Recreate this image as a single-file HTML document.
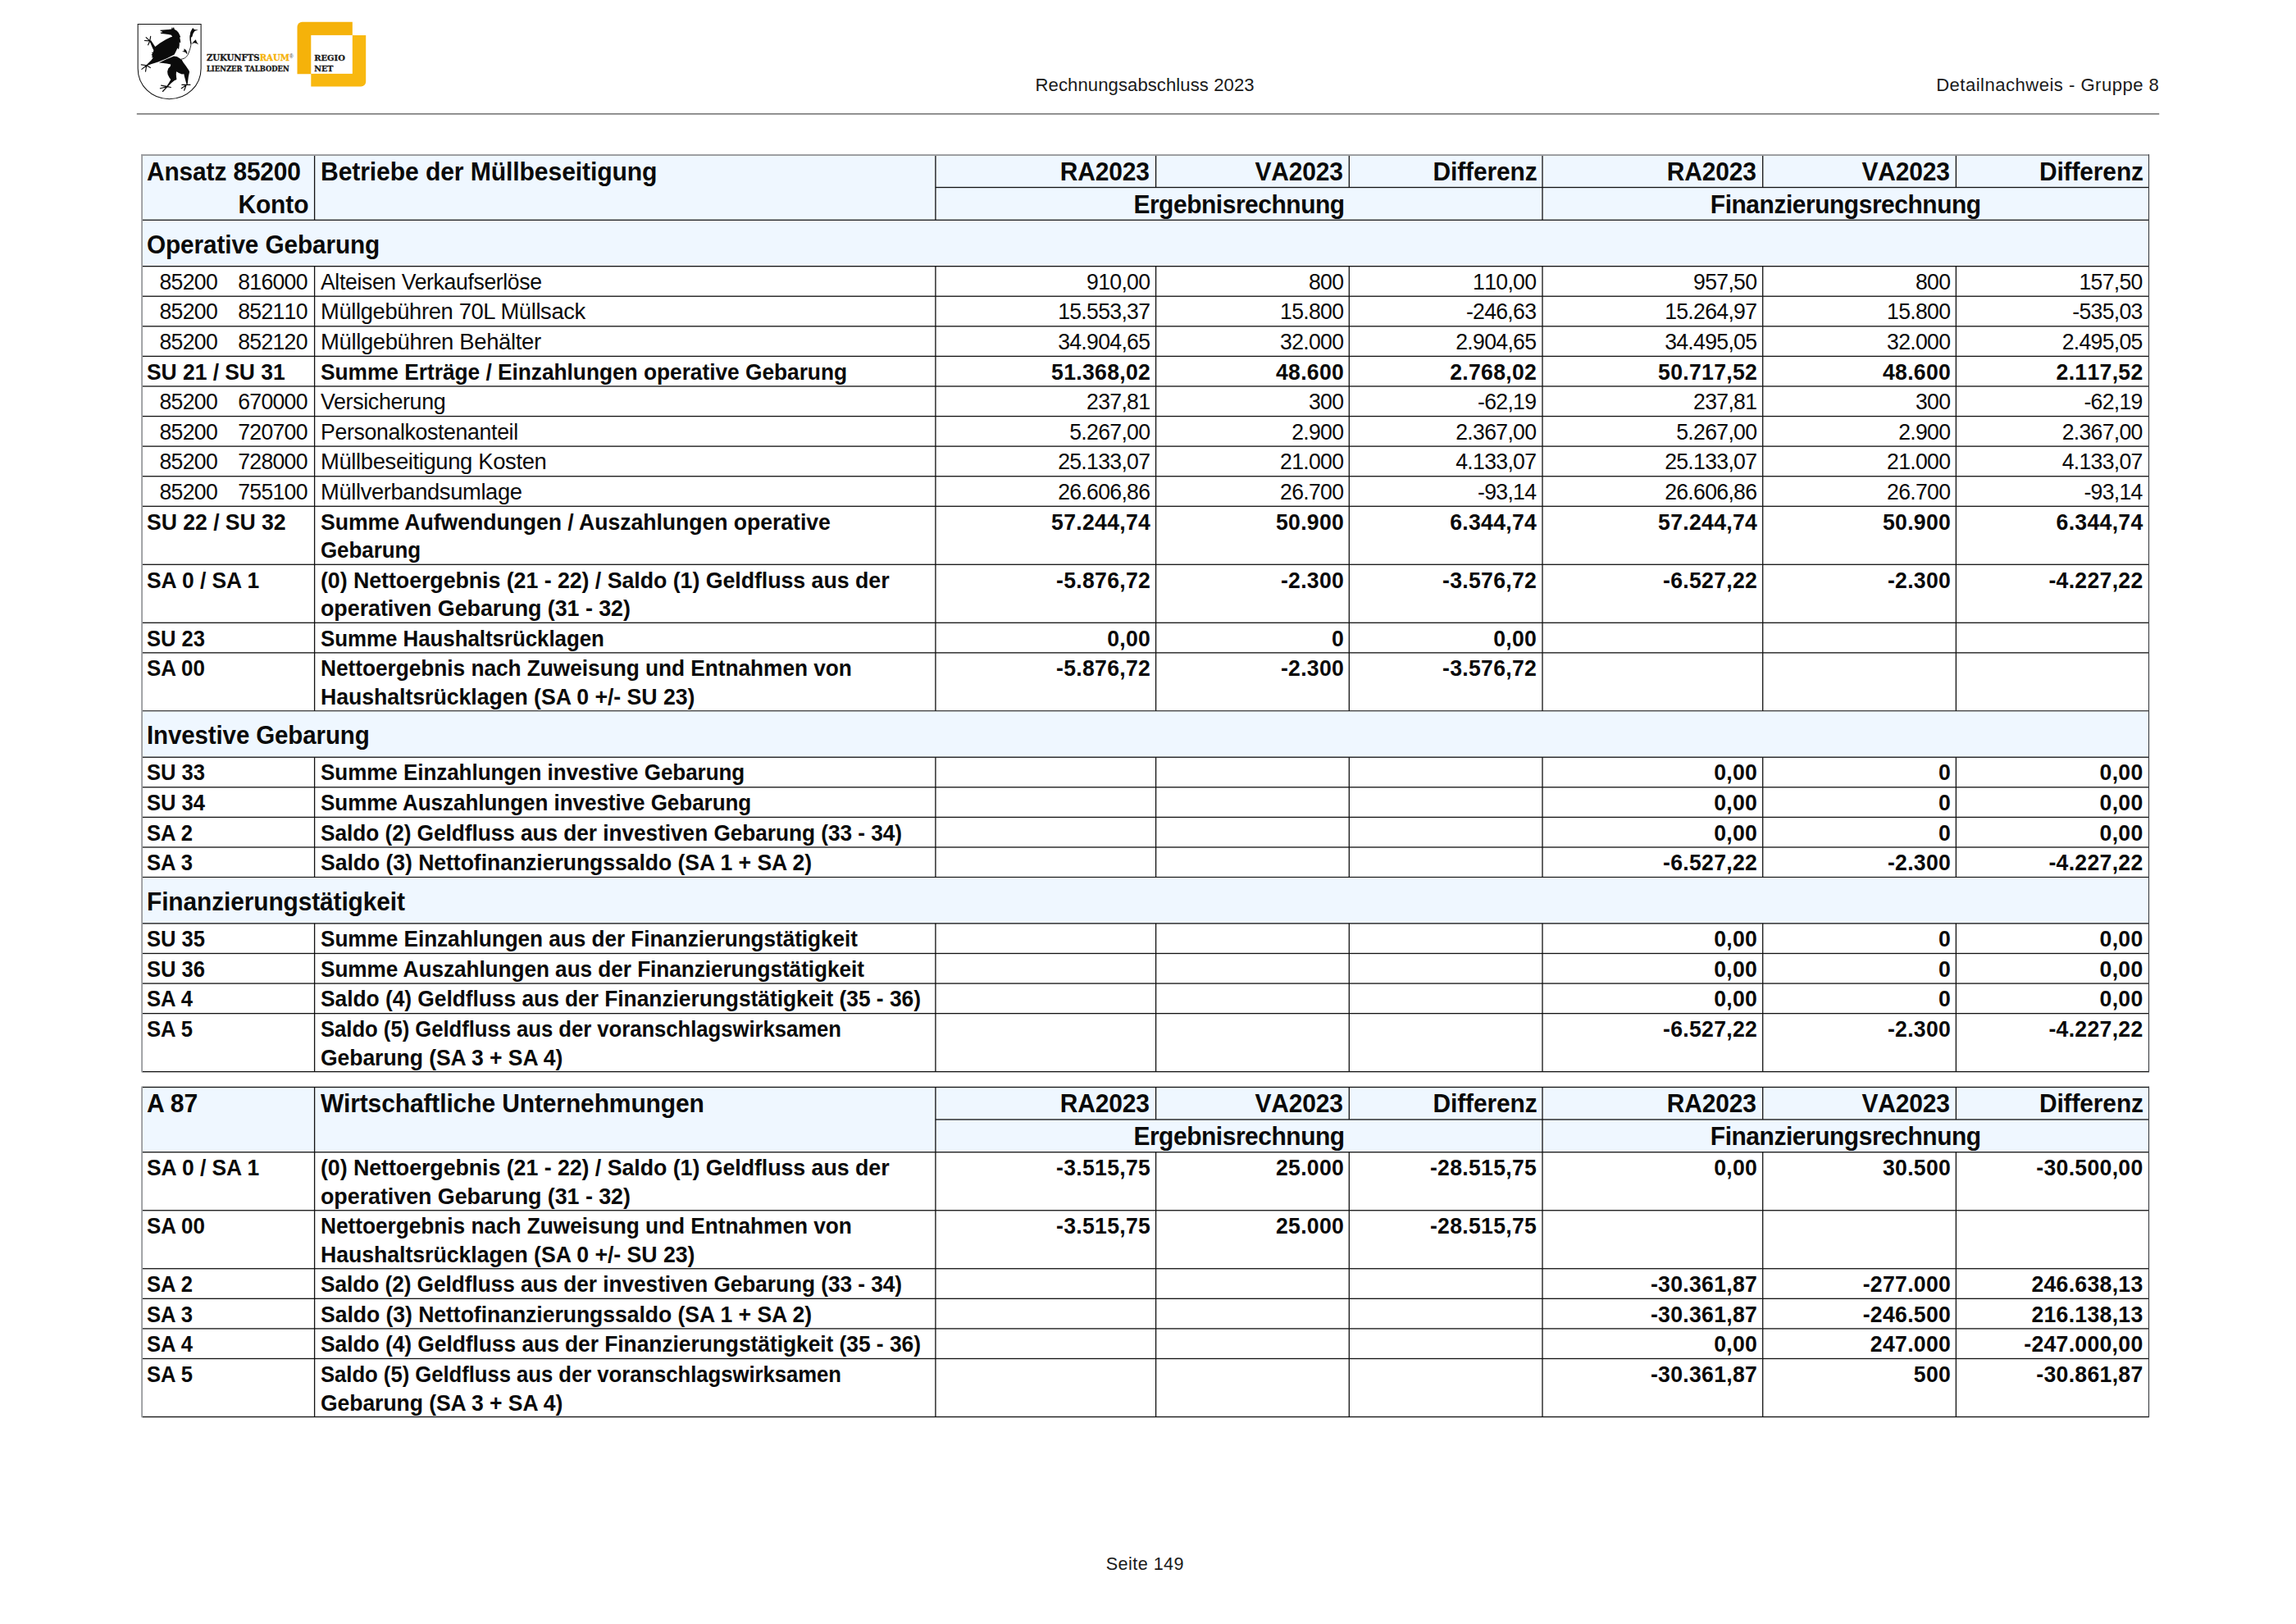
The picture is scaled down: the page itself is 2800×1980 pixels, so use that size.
<!DOCTYPE html>
<html lang="de"><head><meta charset="utf-8"><title>Rechnungsabschluss 2023 - Detailnachweis Gruppe 8</title>
<style>
html,body{margin:0;padding:0;background:#fff;}
body{width:2800px;height:1980px;position:relative;overflow:hidden;font-family:"Liberation Sans",sans-serif;color:#0a0a0a;}
#grid{position:absolute;left:0;top:0;}
.t{position:absolute;white-space:nowrap;font-size:27.0px;letter-spacing:-0.35px;}
.pre{white-space:pre;word-spacing:1.7px;}
.n,.pre,.hn{font-kerning:none;}
.hn{letter-spacing:0.1px;}
.b{font-weight:bold;letter-spacing:-0.05px;}
.h{font-weight:bold;font-size:30.6px;letter-spacing:-0.12px;}
.r.n,.r.pre{letter-spacing:-0.7px;}
.b.n{letter-spacing:0.3px;}
.p{letter-spacing:-0.2px;color:#1a1a1a;}
.logo{position:absolute;left:0;top:0;}
.slab{font-family:"Liberation Serif","DejaVu Serif",serif;font-weight:bold;}
</style></head>
<body>
<svg id="grid" width="2800" height="1980" viewBox="0 0 2800 1980">
<rect x="173.10" y="189.05" width="2447.40" height="79.25" fill="#eff7ff"/>
<rect x="1140.90" y="227.85" width="1479.60" height="1.30" fill="#111"/>
<rect x="382.95" y="189.05" width="1.30" height="79.25" fill="#111"/>
<rect x="1140.25" y="189.05" width="1.30" height="79.25" fill="#111"/>
<rect x="1880.35" y="189.05" width="1.30" height="79.25" fill="#111"/>
<rect x="1408.95" y="189.05" width="1.30" height="39.45" fill="#111"/>
<rect x="1644.65" y="189.05" width="1.30" height="39.45" fill="#111"/>
<rect x="2149.05" y="189.05" width="1.30" height="39.45" fill="#111"/>
<rect x="2384.75" y="189.05" width="1.30" height="39.45" fill="#111"/>
<rect x="173.10" y="267.65" width="2447.40" height="1.30" fill="#111"/>
<rect x="173.10" y="268.95" width="2447.40" height="55.70" fill="#eff7ff"/>
<rect x="173.10" y="324.00" width="2447.40" height="1.30" fill="#111"/>
<rect x="382.95" y="324.65" width="1.30" height="36.58" fill="#111"/>
<rect x="1140.25" y="324.65" width="1.30" height="36.58" fill="#111"/>
<rect x="1408.95" y="324.65" width="1.30" height="36.58" fill="#111"/>
<rect x="1644.65" y="324.65" width="1.30" height="36.58" fill="#111"/>
<rect x="1880.35" y="324.65" width="1.30" height="36.58" fill="#111"/>
<rect x="2149.05" y="324.65" width="1.30" height="36.58" fill="#111"/>
<rect x="2384.75" y="324.65" width="1.30" height="36.58" fill="#111"/>
<rect x="173.10" y="360.58" width="2447.40" height="1.30" fill="#111"/>
<rect x="382.95" y="361.23" width="1.30" height="36.58" fill="#111"/>
<rect x="1140.25" y="361.23" width="1.30" height="36.58" fill="#111"/>
<rect x="1408.95" y="361.23" width="1.30" height="36.58" fill="#111"/>
<rect x="1644.65" y="361.23" width="1.30" height="36.58" fill="#111"/>
<rect x="1880.35" y="361.23" width="1.30" height="36.58" fill="#111"/>
<rect x="2149.05" y="361.23" width="1.30" height="36.58" fill="#111"/>
<rect x="2384.75" y="361.23" width="1.30" height="36.58" fill="#111"/>
<rect x="173.10" y="397.16" width="2447.40" height="1.30" fill="#111"/>
<rect x="382.95" y="397.81" width="1.30" height="36.58" fill="#111"/>
<rect x="1140.25" y="397.81" width="1.30" height="36.58" fill="#111"/>
<rect x="1408.95" y="397.81" width="1.30" height="36.58" fill="#111"/>
<rect x="1644.65" y="397.81" width="1.30" height="36.58" fill="#111"/>
<rect x="1880.35" y="397.81" width="1.30" height="36.58" fill="#111"/>
<rect x="2149.05" y="397.81" width="1.30" height="36.58" fill="#111"/>
<rect x="2384.75" y="397.81" width="1.30" height="36.58" fill="#111"/>
<rect x="173.10" y="433.74" width="2447.40" height="1.30" fill="#111"/>
<rect x="382.95" y="434.39" width="1.30" height="36.58" fill="#111"/>
<rect x="1140.25" y="434.39" width="1.30" height="36.58" fill="#111"/>
<rect x="1408.95" y="434.39" width="1.30" height="36.58" fill="#111"/>
<rect x="1644.65" y="434.39" width="1.30" height="36.58" fill="#111"/>
<rect x="1880.35" y="434.39" width="1.30" height="36.58" fill="#111"/>
<rect x="2149.05" y="434.39" width="1.30" height="36.58" fill="#111"/>
<rect x="2384.75" y="434.39" width="1.30" height="36.58" fill="#111"/>
<rect x="173.10" y="470.32" width="2447.40" height="1.30" fill="#111"/>
<rect x="382.95" y="470.97" width="1.30" height="36.58" fill="#111"/>
<rect x="1140.25" y="470.97" width="1.30" height="36.58" fill="#111"/>
<rect x="1408.95" y="470.97" width="1.30" height="36.58" fill="#111"/>
<rect x="1644.65" y="470.97" width="1.30" height="36.58" fill="#111"/>
<rect x="1880.35" y="470.97" width="1.30" height="36.58" fill="#111"/>
<rect x="2149.05" y="470.97" width="1.30" height="36.58" fill="#111"/>
<rect x="2384.75" y="470.97" width="1.30" height="36.58" fill="#111"/>
<rect x="173.10" y="506.90" width="2447.40" height="1.30" fill="#111"/>
<rect x="382.95" y="507.55" width="1.30" height="36.58" fill="#111"/>
<rect x="1140.25" y="507.55" width="1.30" height="36.58" fill="#111"/>
<rect x="1408.95" y="507.55" width="1.30" height="36.58" fill="#111"/>
<rect x="1644.65" y="507.55" width="1.30" height="36.58" fill="#111"/>
<rect x="1880.35" y="507.55" width="1.30" height="36.58" fill="#111"/>
<rect x="2149.05" y="507.55" width="1.30" height="36.58" fill="#111"/>
<rect x="2384.75" y="507.55" width="1.30" height="36.58" fill="#111"/>
<rect x="173.10" y="543.48" width="2447.40" height="1.30" fill="#111"/>
<rect x="382.95" y="544.13" width="1.30" height="36.58" fill="#111"/>
<rect x="1140.25" y="544.13" width="1.30" height="36.58" fill="#111"/>
<rect x="1408.95" y="544.13" width="1.30" height="36.58" fill="#111"/>
<rect x="1644.65" y="544.13" width="1.30" height="36.58" fill="#111"/>
<rect x="1880.35" y="544.13" width="1.30" height="36.58" fill="#111"/>
<rect x="2149.05" y="544.13" width="1.30" height="36.58" fill="#111"/>
<rect x="2384.75" y="544.13" width="1.30" height="36.58" fill="#111"/>
<rect x="173.10" y="580.06" width="2447.40" height="1.30" fill="#111"/>
<rect x="382.95" y="580.71" width="1.30" height="36.58" fill="#111"/>
<rect x="1140.25" y="580.71" width="1.30" height="36.58" fill="#111"/>
<rect x="1408.95" y="580.71" width="1.30" height="36.58" fill="#111"/>
<rect x="1644.65" y="580.71" width="1.30" height="36.58" fill="#111"/>
<rect x="1880.35" y="580.71" width="1.30" height="36.58" fill="#111"/>
<rect x="2149.05" y="580.71" width="1.30" height="36.58" fill="#111"/>
<rect x="2384.75" y="580.71" width="1.30" height="36.58" fill="#111"/>
<rect x="173.10" y="616.64" width="2447.40" height="1.30" fill="#111"/>
<rect x="382.95" y="617.29" width="1.30" height="71.00" fill="#111"/>
<rect x="1140.25" y="617.29" width="1.30" height="71.00" fill="#111"/>
<rect x="1408.95" y="617.29" width="1.30" height="71.00" fill="#111"/>
<rect x="1644.65" y="617.29" width="1.30" height="71.00" fill="#111"/>
<rect x="1880.35" y="617.29" width="1.30" height="71.00" fill="#111"/>
<rect x="2149.05" y="617.29" width="1.30" height="71.00" fill="#111"/>
<rect x="2384.75" y="617.29" width="1.30" height="71.00" fill="#111"/>
<rect x="173.10" y="687.64" width="2447.40" height="1.30" fill="#111"/>
<rect x="382.95" y="688.29" width="1.30" height="71.00" fill="#111"/>
<rect x="1140.25" y="688.29" width="1.30" height="71.00" fill="#111"/>
<rect x="1408.95" y="688.29" width="1.30" height="71.00" fill="#111"/>
<rect x="1644.65" y="688.29" width="1.30" height="71.00" fill="#111"/>
<rect x="1880.35" y="688.29" width="1.30" height="71.00" fill="#111"/>
<rect x="2149.05" y="688.29" width="1.30" height="71.00" fill="#111"/>
<rect x="2384.75" y="688.29" width="1.30" height="71.00" fill="#111"/>
<rect x="173.10" y="758.64" width="2447.40" height="1.30" fill="#111"/>
<rect x="382.95" y="759.29" width="1.30" height="36.58" fill="#111"/>
<rect x="1140.25" y="759.29" width="1.30" height="36.58" fill="#111"/>
<rect x="1408.95" y="759.29" width="1.30" height="36.58" fill="#111"/>
<rect x="1644.65" y="759.29" width="1.30" height="36.58" fill="#111"/>
<rect x="1880.35" y="759.29" width="1.30" height="36.58" fill="#111"/>
<rect x="2149.05" y="759.29" width="1.30" height="36.58" fill="#111"/>
<rect x="2384.75" y="759.29" width="1.30" height="36.58" fill="#111"/>
<rect x="173.10" y="795.22" width="2447.40" height="1.30" fill="#111"/>
<rect x="382.95" y="795.87" width="1.30" height="71.00" fill="#111"/>
<rect x="1140.25" y="795.87" width="1.30" height="71.00" fill="#111"/>
<rect x="1408.95" y="795.87" width="1.30" height="71.00" fill="#111"/>
<rect x="1644.65" y="795.87" width="1.30" height="71.00" fill="#111"/>
<rect x="1880.35" y="795.87" width="1.30" height="71.00" fill="#111"/>
<rect x="2149.05" y="795.87" width="1.30" height="71.00" fill="#111"/>
<rect x="2384.75" y="795.87" width="1.30" height="71.00" fill="#111"/>
<rect x="173.10" y="866.22" width="2447.40" height="1.30" fill="#111"/>
<rect x="173.10" y="867.52" width="2447.40" height="55.70" fill="#eff7ff"/>
<rect x="173.10" y="922.57" width="2447.40" height="1.30" fill="#111"/>
<rect x="382.95" y="923.22" width="1.30" height="36.58" fill="#111"/>
<rect x="1140.25" y="923.22" width="1.30" height="36.58" fill="#111"/>
<rect x="1408.95" y="923.22" width="1.30" height="36.58" fill="#111"/>
<rect x="1644.65" y="923.22" width="1.30" height="36.58" fill="#111"/>
<rect x="1880.35" y="923.22" width="1.30" height="36.58" fill="#111"/>
<rect x="2149.05" y="923.22" width="1.30" height="36.58" fill="#111"/>
<rect x="2384.75" y="923.22" width="1.30" height="36.58" fill="#111"/>
<rect x="173.10" y="959.15" width="2447.40" height="1.30" fill="#111"/>
<rect x="382.95" y="959.80" width="1.30" height="36.58" fill="#111"/>
<rect x="1140.25" y="959.80" width="1.30" height="36.58" fill="#111"/>
<rect x="1408.95" y="959.80" width="1.30" height="36.58" fill="#111"/>
<rect x="1644.65" y="959.80" width="1.30" height="36.58" fill="#111"/>
<rect x="1880.35" y="959.80" width="1.30" height="36.58" fill="#111"/>
<rect x="2149.05" y="959.80" width="1.30" height="36.58" fill="#111"/>
<rect x="2384.75" y="959.80" width="1.30" height="36.58" fill="#111"/>
<rect x="173.10" y="995.73" width="2447.40" height="1.30" fill="#111"/>
<rect x="382.95" y="996.38" width="1.30" height="36.58" fill="#111"/>
<rect x="1140.25" y="996.38" width="1.30" height="36.58" fill="#111"/>
<rect x="1408.95" y="996.38" width="1.30" height="36.58" fill="#111"/>
<rect x="1644.65" y="996.38" width="1.30" height="36.58" fill="#111"/>
<rect x="1880.35" y="996.38" width="1.30" height="36.58" fill="#111"/>
<rect x="2149.05" y="996.38" width="1.30" height="36.58" fill="#111"/>
<rect x="2384.75" y="996.38" width="1.30" height="36.58" fill="#111"/>
<rect x="173.10" y="1032.31" width="2447.40" height="1.30" fill="#111"/>
<rect x="382.95" y="1032.96" width="1.30" height="36.58" fill="#111"/>
<rect x="1140.25" y="1032.96" width="1.30" height="36.58" fill="#111"/>
<rect x="1408.95" y="1032.96" width="1.30" height="36.58" fill="#111"/>
<rect x="1644.65" y="1032.96" width="1.30" height="36.58" fill="#111"/>
<rect x="1880.35" y="1032.96" width="1.30" height="36.58" fill="#111"/>
<rect x="2149.05" y="1032.96" width="1.30" height="36.58" fill="#111"/>
<rect x="2384.75" y="1032.96" width="1.30" height="36.58" fill="#111"/>
<rect x="173.10" y="1068.89" width="2447.40" height="1.30" fill="#111"/>
<rect x="173.10" y="1070.19" width="2447.40" height="55.70" fill="#eff7ff"/>
<rect x="173.10" y="1125.24" width="2447.40" height="1.30" fill="#111"/>
<rect x="382.95" y="1125.89" width="1.30" height="36.58" fill="#111"/>
<rect x="1140.25" y="1125.89" width="1.30" height="36.58" fill="#111"/>
<rect x="1408.95" y="1125.89" width="1.30" height="36.58" fill="#111"/>
<rect x="1644.65" y="1125.89" width="1.30" height="36.58" fill="#111"/>
<rect x="1880.35" y="1125.89" width="1.30" height="36.58" fill="#111"/>
<rect x="2149.05" y="1125.89" width="1.30" height="36.58" fill="#111"/>
<rect x="2384.75" y="1125.89" width="1.30" height="36.58" fill="#111"/>
<rect x="173.10" y="1161.82" width="2447.40" height="1.30" fill="#111"/>
<rect x="382.95" y="1162.47" width="1.30" height="36.58" fill="#111"/>
<rect x="1140.25" y="1162.47" width="1.30" height="36.58" fill="#111"/>
<rect x="1408.95" y="1162.47" width="1.30" height="36.58" fill="#111"/>
<rect x="1644.65" y="1162.47" width="1.30" height="36.58" fill="#111"/>
<rect x="1880.35" y="1162.47" width="1.30" height="36.58" fill="#111"/>
<rect x="2149.05" y="1162.47" width="1.30" height="36.58" fill="#111"/>
<rect x="2384.75" y="1162.47" width="1.30" height="36.58" fill="#111"/>
<rect x="173.10" y="1198.40" width="2447.40" height="1.30" fill="#111"/>
<rect x="382.95" y="1199.05" width="1.30" height="36.58" fill="#111"/>
<rect x="1140.25" y="1199.05" width="1.30" height="36.58" fill="#111"/>
<rect x="1408.95" y="1199.05" width="1.30" height="36.58" fill="#111"/>
<rect x="1644.65" y="1199.05" width="1.30" height="36.58" fill="#111"/>
<rect x="1880.35" y="1199.05" width="1.30" height="36.58" fill="#111"/>
<rect x="2149.05" y="1199.05" width="1.30" height="36.58" fill="#111"/>
<rect x="2384.75" y="1199.05" width="1.30" height="36.58" fill="#111"/>
<rect x="173.10" y="1234.98" width="2447.40" height="1.30" fill="#111"/>
<rect x="382.95" y="1235.63" width="1.30" height="71.00" fill="#111"/>
<rect x="1140.25" y="1235.63" width="1.30" height="71.00" fill="#111"/>
<rect x="1408.95" y="1235.63" width="1.30" height="71.00" fill="#111"/>
<rect x="1644.65" y="1235.63" width="1.30" height="71.00" fill="#111"/>
<rect x="1880.35" y="1235.63" width="1.30" height="71.00" fill="#111"/>
<rect x="2149.05" y="1235.63" width="1.30" height="71.00" fill="#111"/>
<rect x="2384.75" y="1235.63" width="1.30" height="71.00" fill="#111"/>
<rect x="173.10" y="1305.98" width="2447.40" height="1.30" fill="#111"/>
<rect x="172.20" y="188.10" width="2448.30" height="1.90" fill="#999b9e"/>
<rect x="172.20" y="188.15" width="1.80" height="1119.13" fill="#999b9e"/>
<rect x="2619.93" y="188.15" width="1.15" height="1119.13" fill="#3e4145"/>
<rect x="173.10" y="1325.50" width="2447.40" height="79.25" fill="#eff7ff"/>
<rect x="1140.90" y="1364.30" width="1479.60" height="1.30" fill="#111"/>
<rect x="382.95" y="1325.50" width="1.30" height="79.25" fill="#111"/>
<rect x="1140.25" y="1325.50" width="1.30" height="79.25" fill="#111"/>
<rect x="1880.35" y="1325.50" width="1.30" height="79.25" fill="#111"/>
<rect x="1408.95" y="1325.50" width="1.30" height="39.45" fill="#111"/>
<rect x="1644.65" y="1325.50" width="1.30" height="39.45" fill="#111"/>
<rect x="2149.05" y="1325.50" width="1.30" height="39.45" fill="#111"/>
<rect x="2384.75" y="1325.50" width="1.30" height="39.45" fill="#111"/>
<rect x="173.10" y="1404.10" width="2447.40" height="1.30" fill="#111"/>
<rect x="382.95" y="1404.75" width="1.30" height="71.00" fill="#111"/>
<rect x="1140.25" y="1404.75" width="1.30" height="71.00" fill="#111"/>
<rect x="1408.95" y="1404.75" width="1.30" height="71.00" fill="#111"/>
<rect x="1644.65" y="1404.75" width="1.30" height="71.00" fill="#111"/>
<rect x="1880.35" y="1404.75" width="1.30" height="71.00" fill="#111"/>
<rect x="2149.05" y="1404.75" width="1.30" height="71.00" fill="#111"/>
<rect x="2384.75" y="1404.75" width="1.30" height="71.00" fill="#111"/>
<rect x="173.10" y="1475.10" width="2447.40" height="1.30" fill="#111"/>
<rect x="382.95" y="1475.75" width="1.30" height="71.00" fill="#111"/>
<rect x="1140.25" y="1475.75" width="1.30" height="71.00" fill="#111"/>
<rect x="1408.95" y="1475.75" width="1.30" height="71.00" fill="#111"/>
<rect x="1644.65" y="1475.75" width="1.30" height="71.00" fill="#111"/>
<rect x="1880.35" y="1475.75" width="1.30" height="71.00" fill="#111"/>
<rect x="2149.05" y="1475.75" width="1.30" height="71.00" fill="#111"/>
<rect x="2384.75" y="1475.75" width="1.30" height="71.00" fill="#111"/>
<rect x="173.10" y="1546.10" width="2447.40" height="1.30" fill="#111"/>
<rect x="382.95" y="1546.75" width="1.30" height="36.58" fill="#111"/>
<rect x="1140.25" y="1546.75" width="1.30" height="36.58" fill="#111"/>
<rect x="1408.95" y="1546.75" width="1.30" height="36.58" fill="#111"/>
<rect x="1644.65" y="1546.75" width="1.30" height="36.58" fill="#111"/>
<rect x="1880.35" y="1546.75" width="1.30" height="36.58" fill="#111"/>
<rect x="2149.05" y="1546.75" width="1.30" height="36.58" fill="#111"/>
<rect x="2384.75" y="1546.75" width="1.30" height="36.58" fill="#111"/>
<rect x="173.10" y="1582.68" width="2447.40" height="1.30" fill="#111"/>
<rect x="382.95" y="1583.33" width="1.30" height="36.58" fill="#111"/>
<rect x="1140.25" y="1583.33" width="1.30" height="36.58" fill="#111"/>
<rect x="1408.95" y="1583.33" width="1.30" height="36.58" fill="#111"/>
<rect x="1644.65" y="1583.33" width="1.30" height="36.58" fill="#111"/>
<rect x="1880.35" y="1583.33" width="1.30" height="36.58" fill="#111"/>
<rect x="2149.05" y="1583.33" width="1.30" height="36.58" fill="#111"/>
<rect x="2384.75" y="1583.33" width="1.30" height="36.58" fill="#111"/>
<rect x="173.10" y="1619.26" width="2447.40" height="1.30" fill="#111"/>
<rect x="382.95" y="1619.91" width="1.30" height="36.58" fill="#111"/>
<rect x="1140.25" y="1619.91" width="1.30" height="36.58" fill="#111"/>
<rect x="1408.95" y="1619.91" width="1.30" height="36.58" fill="#111"/>
<rect x="1644.65" y="1619.91" width="1.30" height="36.58" fill="#111"/>
<rect x="1880.35" y="1619.91" width="1.30" height="36.58" fill="#111"/>
<rect x="2149.05" y="1619.91" width="1.30" height="36.58" fill="#111"/>
<rect x="2384.75" y="1619.91" width="1.30" height="36.58" fill="#111"/>
<rect x="173.10" y="1655.84" width="2447.40" height="1.30" fill="#111"/>
<rect x="382.95" y="1656.49" width="1.30" height="71.00" fill="#111"/>
<rect x="1140.25" y="1656.49" width="1.30" height="71.00" fill="#111"/>
<rect x="1408.95" y="1656.49" width="1.30" height="71.00" fill="#111"/>
<rect x="1644.65" y="1656.49" width="1.30" height="71.00" fill="#111"/>
<rect x="1880.35" y="1656.49" width="1.30" height="71.00" fill="#111"/>
<rect x="2149.05" y="1656.49" width="1.30" height="71.00" fill="#111"/>
<rect x="2384.75" y="1656.49" width="1.30" height="71.00" fill="#111"/>
<rect x="173.10" y="1726.84" width="2447.40" height="1.30" fill="#111"/>
<rect x="173.10" y="1324.85" width="2447.40" height="1.30" fill="#111"/>
<rect x="172.20" y="1324.60" width="1.80" height="403.54" fill="#999b9e"/>
<rect x="2619.93" y="1324.60" width="1.15" height="403.54" fill="#3e4145"/>
<rect x="166.80" y="138.15" width="2466.40" height="1.50" fill="#6f6f6f"/>
</svg>
<svg class="logo" width="480" height="140" viewBox="0 0 480 140">
<g transform="translate(160.27,24.35) scale(0.061576)">
<path d="M128,82 L1378,82 L1378,960 C1378,1300 1100,1565 750,1565 C400,1565 128,1300 128,960 Z" fill="#fff" stroke="#111" stroke-width="17"/>
<g fill="#0b0b0b" stroke="none">
<path d="M570,200 L730,188 L795,180 L800,150 L812,150 L820,178 L830,150 L843,150 L852,185 L900,215 L935,255 L960,305 L975,345 L955,338 L968,395 L975,455 L950,440 L950,500 L938,585 L912,555 L885,615 L850,685 L700,760 L530,830 L400,870 L310,905 L290,895 L330,860 L400,790 L430,740 L395,740 L420,715 L395,690 L420,670 L400,645 L430,640 L440,600 L420,560 L370,440 L360,420 L385,400 L470,530 L560,460 L680,390 L770,345 L810,330 L790,300 L740,285 L640,275 L590,270 L570,250 L620,240 L600,225 L570,215 Z"/>
<path d="M545,845 L700,775 L840,715 L900,725 L960,760 L1000,790 L1020,830 L1080,910 L1140,1000 L1150,1030 L1130,1120 L1110,1280 L1095,1290 L1085,1250 L1050,1120 L1040,1070 L1000,1075 L940,1050 L890,1020 L885,1080 L895,1180 L850,1200 L790,1250 L730,1310 L700,1310 L740,1250 L780,1180 L750,1140 L720,1080 L712,1020 L730,960 L770,920 L780,880 L700,865 L600,850 Z"/>
<path d="M1215,155 L1245,188 L1325,198 L1255,218 L1222,265 L1200,340 L1160,345 L1162,290 L1175,225 Z"/>
<path d="M1275,390 L1295,440 L1330,485 L1280,460 L1240,455 L1190,480 L1230,430 Z"/>
<path d="M1045,565 L1085,600 L1105,650 L1100,680 L1070,640 L1000,625 L1040,615 Z"/>
</g>
<g fill="none" stroke="#0b0b0b" stroke-width="19" stroke-linecap="round">
<path d="M365,415 L290,345 M365,415 L262,408 M365,415 L330,495 M365,415 L380,325"/>
<path d="M300,900 L195,885 M300,900 L205,975 M300,900 L280,1020 M300,900 L375,945"/>
<path d="M720,1320 L590,1295 M720,1320 L570,1355 M700,1330 L620,1415 M720,1320 L780,1335"/>
<path d="M1000,1283 L1165,1283 M1085,1290 L990,1355 M1085,1290 L1045,1395"/>
<path d="M990,775 C1060,770 1110,720 1130,660 C1160,580 1180,520 1180,470 C1170,400 1150,330 1190,230" stroke-width="14"/>
<path d="M1188,250 C1160,330 1166,400 1178,470" stroke-width="22" stroke-linecap="butt"/>
</g>
</g>
<!-- regio net mark -->
<path d="M368.5,26.8 H429.8 V90.3 H362.5 V32.8 A6,6 0 0 1 368.5,26.8 Z" fill="#f5b20a"/>
<path d="M379.3,42.9 H446.2 V99.6 A6,6 0 0 1 440.2,105.6 H379.3 Z" fill="#f8b810"/>
<rect x="379.3" y="42.9" width="50.5" height="47" fill="#fff"/>
<g font-family="'DejaVu Serif','Liberation Serif',serif" font-weight="bold" fill="#1a1a1a" stroke="#1a1a1a" stroke-width="0.3" paint-order="stroke">
<text x="251.9" y="74.3" font-size="10.7" textLength="101" lengthAdjust="spacingAndGlyphs">ZUKUNFTS<tspan fill="#f5b20a" stroke="#f5b20a">RAUM</tspan></text>
<text x="353.0" y="71.0" font-size="6.4" stroke="none" font-weight="normal" fill="#444" font-family="'Liberation Sans',sans-serif">®</text>
<text x="251.9" y="86.7" font-size="8.7" textLength="100.8" lengthAdjust="spacingAndGlyphs">LIENZER TALBODEN</text>
<text x="383.2" y="74.3" font-size="10" textLength="37.6" lengthAdjust="spacingAndGlyphs">REGIO</text>
<text x="383.2" y="86.7" font-size="10" textLength="23.2" lengthAdjust="spacingAndGlyphs">NET</text>
</g>
</svg>

<div class="t h" style="left:179.40px;top:191px;width:196.40px;line-height:37px;transform:scaleX(0.9762);transform-origin:left center;">Ansatz 85200</div>
<div class="t h" style="left:179.40px;top:231px;width:197.30px;line-height:37px;text-align:right;transform:scaleX(0.9781);transform-origin:right center;">Konto</div>
<div class="t h" style="left:390.60px;top:191px;width:742.50px;line-height:37px;transform:scaleX(0.9853);transform-origin:left center;">Betriebe der Müllbeseitigung</div>
<div class="t h hn" style="left:1147.90px;top:191px;width:253.90px;line-height:37px;text-align:right;transform:scaleX(0.9781);transform-origin:right center;">RA2023</div>
<div class="t h hn" style="left:1416.60px;top:191px;width:220.90px;line-height:37px;text-align:right;transform:scaleX(0.9781);transform-origin:right center;">VA2023</div>
<div class="t h hn" style="left:1652.30px;top:191px;width:222.50px;line-height:37px;text-align:right;transform:scaleX(0.9781);transform-origin:right center;">Differenz</div>
<div class="t h hn" style="left:1888.00px;top:191px;width:253.90px;line-height:37px;text-align:right;transform:scaleX(0.9781);transform-origin:right center;">RA2023</div>
<div class="t h hn" style="left:2156.70px;top:191px;width:220.90px;line-height:37px;text-align:right;transform:scaleX(0.9781);transform-origin:right center;">VA2023</div>
<div class="t h hn" style="left:2392.40px;top:191px;width:221.90px;line-height:37px;text-align:right;transform:scaleX(0.9781);transform-origin:right center;">Differenz</div>
<div class="t h" style="left:1140.90px;top:231px;width:740.10px;line-height:37px;text-align:center;letter-spacing:-0.45px;transform:scaleX(0.9781);transform-origin:center center;">Ergebnisrechnung</div>
<div class="t h" style="left:1881.00px;top:231px;width:739.50px;line-height:37px;text-align:center;letter-spacing:-0.45px;transform:scaleX(0.9781);transform-origin:center center;">Finanzierungsrechnung</div>
<div class="t h" style="left:179.40px;top:280px;width:2441.10px;line-height:37px;transform:scaleX(0.9731);transform-origin:left center;">Operative Gebarung</div>
<div class="t r pre" style="left:179.40px;top:328px;width:195.80px;line-height:32px;text-align:right;transform:scaleX(0.9852);transform-origin:right center;">85200   816000</div>
<div class="t r" style="left:390.60px;top:328px;width:750.30px;line-height:32px;transform:scaleX(0.9838);transform-origin:left center;">Alteisen Verkaufserlöse</div>
<div class="t r n" style="left:1140.90px;top:328px;width:261.30px;line-height:32px;text-align:right;transform:scaleX(0.9852);transform-origin:right center;">910,00</div>
<div class="t r n" style="left:1409.60px;top:328px;width:228.30px;line-height:32px;text-align:right;transform:scaleX(0.9852);transform-origin:right center;">800</div>
<div class="t r n" style="left:1645.30px;top:328px;width:228.30px;line-height:32px;text-align:right;transform:scaleX(0.9852);transform-origin:right center;">110,00</div>
<div class="t r n" style="left:1881.00px;top:328px;width:261.30px;line-height:32px;text-align:right;transform:scaleX(0.9852);transform-origin:right center;">957,50</div>
<div class="t r n" style="left:2149.70px;top:328px;width:228.30px;line-height:32px;text-align:right;transform:scaleX(0.9852);transform-origin:right center;">800</div>
<div class="t r n" style="left:2385.40px;top:328px;width:227.70px;line-height:32px;text-align:right;transform:scaleX(0.9852);transform-origin:right center;">157,50</div>
<div class="t r pre" style="left:179.40px;top:364px;width:195.80px;line-height:32px;text-align:right;transform:scaleX(0.9852);transform-origin:right center;">85200   852110</div>
<div class="t r" style="left:390.60px;top:364px;width:750.30px;line-height:32px;transform:scaleX(1.0124);transform-origin:left center;">Müllgebühren 70L Müllsack</div>
<div class="t r n" style="left:1140.90px;top:364px;width:261.30px;line-height:32px;text-align:right;transform:scaleX(0.9852);transform-origin:right center;">15.553,37</div>
<div class="t r n" style="left:1409.60px;top:364px;width:228.30px;line-height:32px;text-align:right;transform:scaleX(0.9852);transform-origin:right center;">15.800</div>
<div class="t r n" style="left:1645.30px;top:364px;width:228.30px;line-height:32px;text-align:right;transform:scaleX(0.9852);transform-origin:right center;">-246,63</div>
<div class="t r n" style="left:1881.00px;top:364px;width:261.30px;line-height:32px;text-align:right;transform:scaleX(0.9852);transform-origin:right center;">15.264,97</div>
<div class="t r n" style="left:2149.70px;top:364px;width:228.30px;line-height:32px;text-align:right;transform:scaleX(0.9852);transform-origin:right center;">15.800</div>
<div class="t r n" style="left:2385.40px;top:364px;width:227.70px;line-height:32px;text-align:right;transform:scaleX(0.9852);transform-origin:right center;">-535,03</div>
<div class="t r pre" style="left:179.40px;top:401px;width:195.80px;line-height:32px;text-align:right;transform:scaleX(0.9852);transform-origin:right center;">85200   852120</div>
<div class="t r" style="left:390.60px;top:401px;width:750.30px;line-height:32px;transform:scaleX(1.0164);transform-origin:left center;">Müllgebühren Behälter</div>
<div class="t r n" style="left:1140.90px;top:401px;width:261.30px;line-height:32px;text-align:right;transform:scaleX(0.9852);transform-origin:right center;">34.904,65</div>
<div class="t r n" style="left:1409.60px;top:401px;width:228.30px;line-height:32px;text-align:right;transform:scaleX(0.9852);transform-origin:right center;">32.000</div>
<div class="t r n" style="left:1645.30px;top:401px;width:228.30px;line-height:32px;text-align:right;transform:scaleX(0.9852);transform-origin:right center;">2.904,65</div>
<div class="t r n" style="left:1881.00px;top:401px;width:261.30px;line-height:32px;text-align:right;transform:scaleX(0.9852);transform-origin:right center;">34.495,05</div>
<div class="t r n" style="left:2149.70px;top:401px;width:228.30px;line-height:32px;text-align:right;transform:scaleX(0.9852);transform-origin:right center;">32.000</div>
<div class="t r n" style="left:2385.40px;top:401px;width:227.70px;line-height:32px;text-align:right;transform:scaleX(0.9852);transform-origin:right center;">2.495,05</div>
<div class="t b" style="left:179.40px;top:438px;width:204.20px;line-height:32px;transform:scaleX(0.9806);transform-origin:left center;">SU 21 / SU 31</div>
<div class="t b" style="left:390.60px;top:438px;width:750.30px;line-height:32px;transform:scaleX(0.9760);transform-origin:left center;">Summe Erträge / Einzahlungen operative Gebarung</div>
<div class="t b n" style="left:1140.90px;top:438px;width:262.10px;line-height:32px;text-align:right;transform:scaleX(0.9852);transform-origin:right center;">51.368,02</div>
<div class="t b n" style="left:1409.60px;top:438px;width:229.10px;line-height:32px;text-align:right;transform:scaleX(0.9852);transform-origin:right center;">48.600</div>
<div class="t b n" style="left:1645.30px;top:438px;width:229.10px;line-height:32px;text-align:right;transform:scaleX(0.9852);transform-origin:right center;">2.768,02</div>
<div class="t b n" style="left:1881.00px;top:438px;width:262.10px;line-height:32px;text-align:right;transform:scaleX(0.9852);transform-origin:right center;">50.717,52</div>
<div class="t b n" style="left:2149.70px;top:438px;width:229.10px;line-height:32px;text-align:right;transform:scaleX(0.9852);transform-origin:right center;">48.600</div>
<div class="t b n" style="left:2385.40px;top:438px;width:228.50px;line-height:32px;text-align:right;transform:scaleX(0.9852);transform-origin:right center;">2.117,52</div>
<div class="t r pre" style="left:179.40px;top:474px;width:195.80px;line-height:32px;text-align:right;transform:scaleX(0.9852);transform-origin:right center;">85200   670000</div>
<div class="t r" style="left:390.60px;top:474px;width:750.30px;line-height:32px;transform:scaleX(0.9928);transform-origin:left center;">Versicherung</div>
<div class="t r n" style="left:1140.90px;top:474px;width:261.30px;line-height:32px;text-align:right;transform:scaleX(0.9852);transform-origin:right center;">237,81</div>
<div class="t r n" style="left:1409.60px;top:474px;width:228.30px;line-height:32px;text-align:right;transform:scaleX(0.9852);transform-origin:right center;">300</div>
<div class="t r n" style="left:1645.30px;top:474px;width:228.30px;line-height:32px;text-align:right;transform:scaleX(0.9852);transform-origin:right center;">-62,19</div>
<div class="t r n" style="left:1881.00px;top:474px;width:261.30px;line-height:32px;text-align:right;transform:scaleX(0.9852);transform-origin:right center;">237,81</div>
<div class="t r n" style="left:2149.70px;top:474px;width:228.30px;line-height:32px;text-align:right;transform:scaleX(0.9852);transform-origin:right center;">300</div>
<div class="t r n" style="left:2385.40px;top:474px;width:227.70px;line-height:32px;text-align:right;transform:scaleX(0.9852);transform-origin:right center;">-62,19</div>
<div class="t r pre" style="left:179.40px;top:511px;width:195.80px;line-height:32px;text-align:right;transform:scaleX(0.9852);transform-origin:right center;">85200   720700</div>
<div class="t r" style="left:390.60px;top:511px;width:750.30px;line-height:32px;transform:scaleX(0.9882);transform-origin:left center;">Personalkostenanteil</div>
<div class="t r n" style="left:1140.90px;top:511px;width:261.30px;line-height:32px;text-align:right;transform:scaleX(0.9852);transform-origin:right center;">5.267,00</div>
<div class="t r n" style="left:1409.60px;top:511px;width:228.30px;line-height:32px;text-align:right;transform:scaleX(0.9852);transform-origin:right center;">2.900</div>
<div class="t r n" style="left:1645.30px;top:511px;width:228.30px;line-height:32px;text-align:right;transform:scaleX(0.9852);transform-origin:right center;">2.367,00</div>
<div class="t r n" style="left:1881.00px;top:511px;width:261.30px;line-height:32px;text-align:right;transform:scaleX(0.9852);transform-origin:right center;">5.267,00</div>
<div class="t r n" style="left:2149.70px;top:511px;width:228.30px;line-height:32px;text-align:right;transform:scaleX(0.9852);transform-origin:right center;">2.900</div>
<div class="t r n" style="left:2385.40px;top:511px;width:227.70px;line-height:32px;text-align:right;transform:scaleX(0.9852);transform-origin:right center;">2.367,00</div>
<div class="t r pre" style="left:179.40px;top:547px;width:195.80px;line-height:32px;text-align:right;transform:scaleX(0.9852);transform-origin:right center;">85200   728000</div>
<div class="t r" style="left:390.60px;top:547px;width:750.30px;line-height:32px;transform:scaleX(1.0144);transform-origin:left center;">Müllbeseitigung Kosten</div>
<div class="t r n" style="left:1140.90px;top:547px;width:261.30px;line-height:32px;text-align:right;transform:scaleX(0.9852);transform-origin:right center;">25.133,07</div>
<div class="t r n" style="left:1409.60px;top:547px;width:228.30px;line-height:32px;text-align:right;transform:scaleX(0.9852);transform-origin:right center;">21.000</div>
<div class="t r n" style="left:1645.30px;top:547px;width:228.30px;line-height:32px;text-align:right;transform:scaleX(0.9852);transform-origin:right center;">4.133,07</div>
<div class="t r n" style="left:1881.00px;top:547px;width:261.30px;line-height:32px;text-align:right;transform:scaleX(0.9852);transform-origin:right center;">25.133,07</div>
<div class="t r n" style="left:2149.70px;top:547px;width:228.30px;line-height:32px;text-align:right;transform:scaleX(0.9852);transform-origin:right center;">21.000</div>
<div class="t r n" style="left:2385.40px;top:547px;width:227.70px;line-height:32px;text-align:right;transform:scaleX(0.9852);transform-origin:right center;">4.133,07</div>
<div class="t r pre" style="left:179.40px;top:584px;width:195.80px;line-height:32px;text-align:right;transform:scaleX(0.9852);transform-origin:right center;">85200   755100</div>
<div class="t r" style="left:390.60px;top:584px;width:750.30px;line-height:32px;transform:scaleX(1.0114);transform-origin:left center;">Müllverbandsumlage</div>
<div class="t r n" style="left:1140.90px;top:584px;width:261.30px;line-height:32px;text-align:right;transform:scaleX(0.9852);transform-origin:right center;">26.606,86</div>
<div class="t r n" style="left:1409.60px;top:584px;width:228.30px;line-height:32px;text-align:right;transform:scaleX(0.9852);transform-origin:right center;">26.700</div>
<div class="t r n" style="left:1645.30px;top:584px;width:228.30px;line-height:32px;text-align:right;transform:scaleX(0.9852);transform-origin:right center;">-93,14</div>
<div class="t r n" style="left:1881.00px;top:584px;width:261.30px;line-height:32px;text-align:right;transform:scaleX(0.9852);transform-origin:right center;">26.606,86</div>
<div class="t r n" style="left:2149.70px;top:584px;width:228.30px;line-height:32px;text-align:right;transform:scaleX(0.9852);transform-origin:right center;">26.700</div>
<div class="t r n" style="left:2385.40px;top:584px;width:227.70px;line-height:32px;text-align:right;transform:scaleX(0.9852);transform-origin:right center;">-93,14</div>
<div class="t b" style="left:179.40px;top:621px;width:204.20px;line-height:32px;transform:scaleX(0.9865);transform-origin:left center;">SU 22 / SU 32</div>
<div class="t b" style="left:390.60px;top:621px;width:750.30px;line-height:32px;transform:scaleX(0.9863);transform-origin:left center;">Summe Aufwendungen / Auszahlungen operative</div>
<div class="t b" style="left:390.60px;top:655px;width:750.30px;line-height:32px;transform:scaleX(0.9605);transform-origin:left center;">Gebarung</div>
<div class="t b n" style="left:1140.90px;top:621px;width:262.10px;line-height:32px;text-align:right;transform:scaleX(0.9852);transform-origin:right center;">57.244,74</div>
<div class="t b n" style="left:1409.60px;top:621px;width:229.10px;line-height:32px;text-align:right;transform:scaleX(0.9852);transform-origin:right center;">50.900</div>
<div class="t b n" style="left:1645.30px;top:621px;width:229.10px;line-height:32px;text-align:right;transform:scaleX(0.9852);transform-origin:right center;">6.344,74</div>
<div class="t b n" style="left:1881.00px;top:621px;width:262.10px;line-height:32px;text-align:right;transform:scaleX(0.9852);transform-origin:right center;">57.244,74</div>
<div class="t b n" style="left:2149.70px;top:621px;width:229.10px;line-height:32px;text-align:right;transform:scaleX(0.9852);transform-origin:right center;">50.900</div>
<div class="t b n" style="left:2385.40px;top:621px;width:228.50px;line-height:32px;text-align:right;transform:scaleX(0.9852);transform-origin:right center;">6.344,74</div>
<div class="t b" style="left:179.40px;top:692px;width:204.20px;line-height:32px;transform:scaleX(0.9792);transform-origin:left center;">SA 0 / SA 1</div>
<div class="t b" style="left:390.60px;top:692px;width:750.30px;line-height:32px;transform:scaleX(0.9917);transform-origin:left center;">(0) Nettoergebnis (21 - 22) / Saldo (1) Geldfluss aus der</div>
<div class="t b" style="left:390.60px;top:726px;width:750.30px;line-height:32px;transform:scaleX(0.9954);transform-origin:left center;">operativen Gebarung (31 - 32)</div>
<div class="t b n" style="left:1140.90px;top:692px;width:262.10px;line-height:32px;text-align:right;transform:scaleX(0.9852);transform-origin:right center;">-5.876,72</div>
<div class="t b n" style="left:1409.60px;top:692px;width:229.10px;line-height:32px;text-align:right;transform:scaleX(0.9852);transform-origin:right center;">-2.300</div>
<div class="t b n" style="left:1645.30px;top:692px;width:229.10px;line-height:32px;text-align:right;transform:scaleX(0.9852);transform-origin:right center;">-3.576,72</div>
<div class="t b n" style="left:1881.00px;top:692px;width:262.10px;line-height:32px;text-align:right;transform:scaleX(0.9852);transform-origin:right center;">-6.527,22</div>
<div class="t b n" style="left:2149.70px;top:692px;width:229.10px;line-height:32px;text-align:right;transform:scaleX(0.9852);transform-origin:right center;">-2.300</div>
<div class="t b n" style="left:2385.40px;top:692px;width:228.50px;line-height:32px;text-align:right;transform:scaleX(0.9852);transform-origin:right center;">-4.227,22</div>
<div class="t b" style="left:179.40px;top:763px;width:204.20px;line-height:32px;transform:scaleX(0.9474);transform-origin:left center;">SU 23</div>
<div class="t b" style="left:390.60px;top:763px;width:750.30px;line-height:32px;transform:scaleX(0.9594);transform-origin:left center;">Summe Haushaltsrücklagen</div>
<div class="t b n" style="left:1140.90px;top:763px;width:262.10px;line-height:32px;text-align:right;transform:scaleX(0.9852);transform-origin:right center;">0,00</div>
<div class="t b n" style="left:1409.60px;top:763px;width:229.10px;line-height:32px;text-align:right;transform:scaleX(0.9852);transform-origin:right center;">0</div>
<div class="t b n" style="left:1645.30px;top:763px;width:229.10px;line-height:32px;text-align:right;transform:scaleX(0.9852);transform-origin:right center;">0,00</div>
<div class="t b" style="left:179.40px;top:799px;width:204.20px;line-height:32px;transform:scaleX(0.9602);transform-origin:left center;">SA 00</div>
<div class="t b" style="left:390.60px;top:799px;width:750.30px;line-height:32px;transform:scaleX(0.9739);transform-origin:left center;">Nettoergebnis nach Zuweisung und Entnahmen von</div>
<div class="t b" style="left:390.60px;top:834px;width:750.30px;line-height:32px;transform:scaleX(0.9884);transform-origin:left center;">Haushaltsrücklagen (SA 0 +/- SU 23)</div>
<div class="t b n" style="left:1140.90px;top:799px;width:262.10px;line-height:32px;text-align:right;transform:scaleX(0.9852);transform-origin:right center;">-5.876,72</div>
<div class="t b n" style="left:1409.60px;top:799px;width:229.10px;line-height:32px;text-align:right;transform:scaleX(0.9852);transform-origin:right center;">-2.300</div>
<div class="t b n" style="left:1645.30px;top:799px;width:229.10px;line-height:32px;text-align:right;transform:scaleX(0.9852);transform-origin:right center;">-3.576,72</div>
<div class="t h" style="left:179.40px;top:878px;width:2441.10px;line-height:37px;transform:scaleX(0.9639);transform-origin:left center;">Investive Gebarung</div>
<div class="t b" style="left:179.40px;top:926px;width:204.20px;line-height:32px;transform:scaleX(0.9474);transform-origin:left center;">SU 33</div>
<div class="t b" style="left:390.60px;top:926px;width:750.30px;line-height:32px;transform:scaleX(0.9635);transform-origin:left center;">Summe Einzahlungen investive Gebarung</div>
<div class="t b n" style="left:1881.00px;top:926px;width:262.10px;line-height:32px;text-align:right;transform:scaleX(0.9852);transform-origin:right center;">0,00</div>
<div class="t b n" style="left:2149.70px;top:926px;width:229.10px;line-height:32px;text-align:right;transform:scaleX(0.9852);transform-origin:right center;">0</div>
<div class="t b n" style="left:2385.40px;top:926px;width:228.50px;line-height:32px;text-align:right;transform:scaleX(0.9852);transform-origin:right center;">0,00</div>
<div class="t b" style="left:179.40px;top:963px;width:204.20px;line-height:32px;transform:scaleX(0.9474);transform-origin:left center;">SU 34</div>
<div class="t b" style="left:390.60px;top:963px;width:750.30px;line-height:32px;transform:scaleX(0.9641);transform-origin:left center;">Summe Auszahlungen investive Gebarung</div>
<div class="t b n" style="left:1881.00px;top:963px;width:262.10px;line-height:32px;text-align:right;transform:scaleX(0.9852);transform-origin:right center;">0,00</div>
<div class="t b n" style="left:2149.70px;top:963px;width:229.10px;line-height:32px;text-align:right;transform:scaleX(0.9852);transform-origin:right center;">0</div>
<div class="t b n" style="left:2385.40px;top:963px;width:228.50px;line-height:32px;text-align:right;transform:scaleX(0.9852);transform-origin:right center;">0,00</div>
<div class="t b" style="left:179.40px;top:1000px;width:204.20px;line-height:32px;transform:scaleX(0.9495);transform-origin:left center;">SA 2</div>
<div class="t b" style="left:390.60px;top:1000px;width:750.30px;line-height:32px;transform:scaleX(0.9720);transform-origin:left center;">Saldo (2) Geldfluss aus der investiven Gebarung (33 - 34)</div>
<div class="t b n" style="left:1881.00px;top:1000px;width:262.10px;line-height:32px;text-align:right;transform:scaleX(0.9852);transform-origin:right center;">0,00</div>
<div class="t b n" style="left:2149.70px;top:1000px;width:229.10px;line-height:32px;text-align:right;transform:scaleX(0.9852);transform-origin:right center;">0</div>
<div class="t b n" style="left:2385.40px;top:1000px;width:228.50px;line-height:32px;text-align:right;transform:scaleX(0.9852);transform-origin:right center;">0,00</div>
<div class="t b" style="left:179.40px;top:1036px;width:204.20px;line-height:32px;transform:scaleX(0.9495);transform-origin:left center;">SA 3</div>
<div class="t b" style="left:390.60px;top:1036px;width:750.30px;line-height:32px;transform:scaleX(0.9846);transform-origin:left center;">Saldo (3) Nettofinanzierungssaldo (SA 1 + SA 2)</div>
<div class="t b n" style="left:1881.00px;top:1036px;width:262.10px;line-height:32px;text-align:right;transform:scaleX(0.9852);transform-origin:right center;">-6.527,22</div>
<div class="t b n" style="left:2149.70px;top:1036px;width:229.10px;line-height:32px;text-align:right;transform:scaleX(0.9852);transform-origin:right center;">-2.300</div>
<div class="t b n" style="left:2385.40px;top:1036px;width:228.50px;line-height:32px;text-align:right;transform:scaleX(0.9852);transform-origin:right center;">-4.227,22</div>
<div class="t h" style="left:179.40px;top:1081px;width:2441.10px;line-height:37px;transform:scaleX(0.9776);transform-origin:left center;">Finanzierungstätigkeit</div>
<div class="t b" style="left:179.40px;top:1129px;width:204.20px;line-height:32px;transform:scaleX(0.9474);transform-origin:left center;">SU 35</div>
<div class="t b" style="left:390.60px;top:1129px;width:750.30px;line-height:32px;transform:scaleX(0.9693);transform-origin:left center;">Summe Einzahlungen aus der Finanzierungstätigkeit</div>
<div class="t b n" style="left:1881.00px;top:1129px;width:262.10px;line-height:32px;text-align:right;transform:scaleX(0.9852);transform-origin:right center;">0,00</div>
<div class="t b n" style="left:2149.70px;top:1129px;width:229.10px;line-height:32px;text-align:right;transform:scaleX(0.9852);transform-origin:right center;">0</div>
<div class="t b n" style="left:2385.40px;top:1129px;width:228.50px;line-height:32px;text-align:right;transform:scaleX(0.9852);transform-origin:right center;">0,00</div>
<div class="t b" style="left:179.40px;top:1166px;width:204.20px;line-height:32px;transform:scaleX(0.9474);transform-origin:left center;">SU 36</div>
<div class="t b" style="left:390.60px;top:1166px;width:750.30px;line-height:32px;transform:scaleX(0.9696);transform-origin:left center;">Summe Auszahlungen aus der Finanzierungstätigkeit</div>
<div class="t b n" style="left:1881.00px;top:1166px;width:262.10px;line-height:32px;text-align:right;transform:scaleX(0.9852);transform-origin:right center;">0,00</div>
<div class="t b n" style="left:2149.70px;top:1166px;width:229.10px;line-height:32px;text-align:right;transform:scaleX(0.9852);transform-origin:right center;">0</div>
<div class="t b n" style="left:2385.40px;top:1166px;width:228.50px;line-height:32px;text-align:right;transform:scaleX(0.9852);transform-origin:right center;">0,00</div>
<div class="t b" style="left:179.40px;top:1202px;width:204.20px;line-height:32px;transform:scaleX(0.9495);transform-origin:left center;">SA 4</div>
<div class="t b" style="left:390.60px;top:1202px;width:750.30px;line-height:32px;transform:scaleX(0.9776);transform-origin:left center;">Saldo (4) Geldfluss aus der Finanzierungstätigkeit (35 - 36)</div>
<div class="t b n" style="left:1881.00px;top:1202px;width:262.10px;line-height:32px;text-align:right;transform:scaleX(0.9852);transform-origin:right center;">0,00</div>
<div class="t b n" style="left:2149.70px;top:1202px;width:229.10px;line-height:32px;text-align:right;transform:scaleX(0.9852);transform-origin:right center;">0</div>
<div class="t b n" style="left:2385.40px;top:1202px;width:228.50px;line-height:32px;text-align:right;transform:scaleX(0.9852);transform-origin:right center;">0,00</div>
<div class="t b" style="left:179.40px;top:1239px;width:204.20px;line-height:32px;transform:scaleX(0.9495);transform-origin:left center;">SA 5</div>
<div class="t b" style="left:390.60px;top:1239px;width:750.30px;line-height:32px;transform:scaleX(0.9523);transform-origin:left center;">Saldo (5) Geldfluss aus der voranschlagswirksamen</div>
<div class="t b" style="left:390.60px;top:1274px;width:750.30px;line-height:32px;transform:scaleX(0.9820);transform-origin:left center;">Gebarung (SA 3 + SA 4)</div>
<div class="t b n" style="left:1881.00px;top:1239px;width:262.10px;line-height:32px;text-align:right;transform:scaleX(0.9852);transform-origin:right center;">-6.527,22</div>
<div class="t b n" style="left:2149.70px;top:1239px;width:229.10px;line-height:32px;text-align:right;transform:scaleX(0.9852);transform-origin:right center;">-2.300</div>
<div class="t b n" style="left:2385.40px;top:1239px;width:228.50px;line-height:32px;text-align:right;transform:scaleX(0.9852);transform-origin:right center;">-4.227,22</div>
<div class="t h" style="left:179.40px;top:1327px;width:196.40px;line-height:37px;transform:scaleX(0.9856);transform-origin:left center;">A 87</div>
<div class="t h" style="left:390.60px;top:1327px;width:742.50px;line-height:37px;transform:scaleX(0.9803);transform-origin:left center;">Wirtschaftliche Unternehmungen</div>
<div class="t h hn" style="left:1147.90px;top:1327px;width:253.90px;line-height:37px;text-align:right;transform:scaleX(0.9781);transform-origin:right center;">RA2023</div>
<div class="t h hn" style="left:1416.60px;top:1327px;width:220.90px;line-height:37px;text-align:right;transform:scaleX(0.9781);transform-origin:right center;">VA2023</div>
<div class="t h hn" style="left:1652.30px;top:1327px;width:222.50px;line-height:37px;text-align:right;transform:scaleX(0.9781);transform-origin:right center;">Differenz</div>
<div class="t h hn" style="left:1888.00px;top:1327px;width:253.90px;line-height:37px;text-align:right;transform:scaleX(0.9781);transform-origin:right center;">RA2023</div>
<div class="t h hn" style="left:2156.70px;top:1327px;width:220.90px;line-height:37px;text-align:right;transform:scaleX(0.9781);transform-origin:right center;">VA2023</div>
<div class="t h hn" style="left:2392.40px;top:1327px;width:221.90px;line-height:37px;text-align:right;transform:scaleX(0.9781);transform-origin:right center;">Differenz</div>
<div class="t h" style="left:1140.90px;top:1367px;width:740.10px;line-height:37px;text-align:center;letter-spacing:-0.45px;transform:scaleX(0.9781);transform-origin:center center;">Ergebnisrechnung</div>
<div class="t h" style="left:1881.00px;top:1367px;width:739.50px;line-height:37px;text-align:center;letter-spacing:-0.45px;transform:scaleX(0.9781);transform-origin:center center;">Finanzierungsrechnung</div>
<div class="t b" style="left:179.40px;top:1408px;width:204.20px;line-height:32px;transform:scaleX(0.9792);transform-origin:left center;">SA 0 / SA 1</div>
<div class="t b" style="left:390.60px;top:1408px;width:750.30px;line-height:32px;transform:scaleX(0.9917);transform-origin:left center;">(0) Nettoergebnis (21 - 22) / Saldo (1) Geldfluss aus der</div>
<div class="t b" style="left:390.60px;top:1443px;width:750.30px;line-height:32px;transform:scaleX(0.9954);transform-origin:left center;">operativen Gebarung (31 - 32)</div>
<div class="t b n" style="left:1140.90px;top:1408px;width:262.10px;line-height:32px;text-align:right;transform:scaleX(0.9852);transform-origin:right center;">-3.515,75</div>
<div class="t b n" style="left:1409.60px;top:1408px;width:229.10px;line-height:32px;text-align:right;transform:scaleX(0.9852);transform-origin:right center;">25.000</div>
<div class="t b n" style="left:1645.30px;top:1408px;width:229.10px;line-height:32px;text-align:right;transform:scaleX(0.9852);transform-origin:right center;">-28.515,75</div>
<div class="t b n" style="left:1881.00px;top:1408px;width:262.10px;line-height:32px;text-align:right;transform:scaleX(0.9852);transform-origin:right center;">0,00</div>
<div class="t b n" style="left:2149.70px;top:1408px;width:229.10px;line-height:32px;text-align:right;transform:scaleX(0.9852);transform-origin:right center;">30.500</div>
<div class="t b n" style="left:2385.40px;top:1408px;width:228.50px;line-height:32px;text-align:right;transform:scaleX(0.9852);transform-origin:right center;">-30.500,00</div>
<div class="t b" style="left:179.40px;top:1479px;width:204.20px;line-height:32px;transform:scaleX(0.9602);transform-origin:left center;">SA 00</div>
<div class="t b" style="left:390.60px;top:1479px;width:750.30px;line-height:32px;transform:scaleX(0.9739);transform-origin:left center;">Nettoergebnis nach Zuweisung und Entnahmen von</div>
<div class="t b" style="left:390.60px;top:1514px;width:750.30px;line-height:32px;transform:scaleX(0.9884);transform-origin:left center;">Haushaltsrücklagen (SA 0 +/- SU 23)</div>
<div class="t b n" style="left:1140.90px;top:1479px;width:262.10px;line-height:32px;text-align:right;transform:scaleX(0.9852);transform-origin:right center;">-3.515,75</div>
<div class="t b n" style="left:1409.60px;top:1479px;width:229.10px;line-height:32px;text-align:right;transform:scaleX(0.9852);transform-origin:right center;">25.000</div>
<div class="t b n" style="left:1645.30px;top:1479px;width:229.10px;line-height:32px;text-align:right;transform:scaleX(0.9852);transform-origin:right center;">-28.515,75</div>
<div class="t b" style="left:179.40px;top:1550px;width:204.20px;line-height:32px;transform:scaleX(0.9495);transform-origin:left center;">SA 2</div>
<div class="t b" style="left:390.60px;top:1550px;width:750.30px;line-height:32px;transform:scaleX(0.9720);transform-origin:left center;">Saldo (2) Geldfluss aus der investiven Gebarung (33 - 34)</div>
<div class="t b n" style="left:1881.00px;top:1550px;width:262.10px;line-height:32px;text-align:right;transform:scaleX(0.9852);transform-origin:right center;">-30.361,87</div>
<div class="t b n" style="left:2149.70px;top:1550px;width:229.10px;line-height:32px;text-align:right;transform:scaleX(0.9852);transform-origin:right center;">-277.000</div>
<div class="t b n" style="left:2385.40px;top:1550px;width:228.50px;line-height:32px;text-align:right;transform:scaleX(0.9852);transform-origin:right center;">246.638,13</div>
<div class="t b" style="left:179.40px;top:1587px;width:204.20px;line-height:32px;transform:scaleX(0.9495);transform-origin:left center;">SA 3</div>
<div class="t b" style="left:390.60px;top:1587px;width:750.30px;line-height:32px;transform:scaleX(0.9846);transform-origin:left center;">Saldo (3) Nettofinanzierungssaldo (SA 1 + SA 2)</div>
<div class="t b n" style="left:1881.00px;top:1587px;width:262.10px;line-height:32px;text-align:right;transform:scaleX(0.9852);transform-origin:right center;">-30.361,87</div>
<div class="t b n" style="left:2149.70px;top:1587px;width:229.10px;line-height:32px;text-align:right;transform:scaleX(0.9852);transform-origin:right center;">-246.500</div>
<div class="t b n" style="left:2385.40px;top:1587px;width:228.50px;line-height:32px;text-align:right;transform:scaleX(0.9852);transform-origin:right center;">216.138,13</div>
<div class="t b" style="left:179.40px;top:1623px;width:204.20px;line-height:32px;transform:scaleX(0.9495);transform-origin:left center;">SA 4</div>
<div class="t b" style="left:390.60px;top:1623px;width:750.30px;line-height:32px;transform:scaleX(0.9776);transform-origin:left center;">Saldo (4) Geldfluss aus der Finanzierungstätigkeit (35 - 36)</div>
<div class="t b n" style="left:1881.00px;top:1623px;width:262.10px;line-height:32px;text-align:right;transform:scaleX(0.9852);transform-origin:right center;">0,00</div>
<div class="t b n" style="left:2149.70px;top:1623px;width:229.10px;line-height:32px;text-align:right;transform:scaleX(0.9852);transform-origin:right center;">247.000</div>
<div class="t b n" style="left:2385.40px;top:1623px;width:228.50px;line-height:32px;text-align:right;transform:scaleX(0.9852);transform-origin:right center;">-247.000,00</div>
<div class="t b" style="left:179.40px;top:1660px;width:204.20px;line-height:32px;transform:scaleX(0.9495);transform-origin:left center;">SA 5</div>
<div class="t b" style="left:390.60px;top:1660px;width:750.30px;line-height:32px;transform:scaleX(0.9523);transform-origin:left center;">Saldo (5) Geldfluss aus der voranschlagswirksamen</div>
<div class="t b" style="left:390.60px;top:1695px;width:750.30px;line-height:32px;transform:scaleX(0.9820);transform-origin:left center;">Gebarung (SA 3 + SA 4)</div>
<div class="t b n" style="left:1881.00px;top:1660px;width:262.10px;line-height:32px;text-align:right;transform:scaleX(0.9852);transform-origin:right center;">-30.361,87</div>
<div class="t b n" style="left:2149.70px;top:1660px;width:229.10px;line-height:32px;text-align:right;transform:scaleX(0.9852);transform-origin:right center;">500</div>
<div class="t b n" style="left:2385.40px;top:1660px;width:228.50px;line-height:32px;text-align:right;transform:scaleX(0.9852);transform-origin:right center;">-30.861,87</div>
<div class="t p" style="left:1096.10px;top:90px;width:600.00px;line-height:27px;text-align:center;letter-spacing:0.08px;font-size:22.1px;">Rechnungsabschluss 2023</div>
<div class="t p" style="left:2000.00px;top:90px;width:633.30px;line-height:27px;text-align:right;letter-spacing:0.47px;font-size:22.1px;">Detailnachweis - Gruppe 8</div>
<div class="t p" style="left:1196.40px;top:1894px;width:400.00px;line-height:26px;text-align:center;letter-spacing:0.45px;font-size:21.6px;">Seite 149</div>
</body></html>
